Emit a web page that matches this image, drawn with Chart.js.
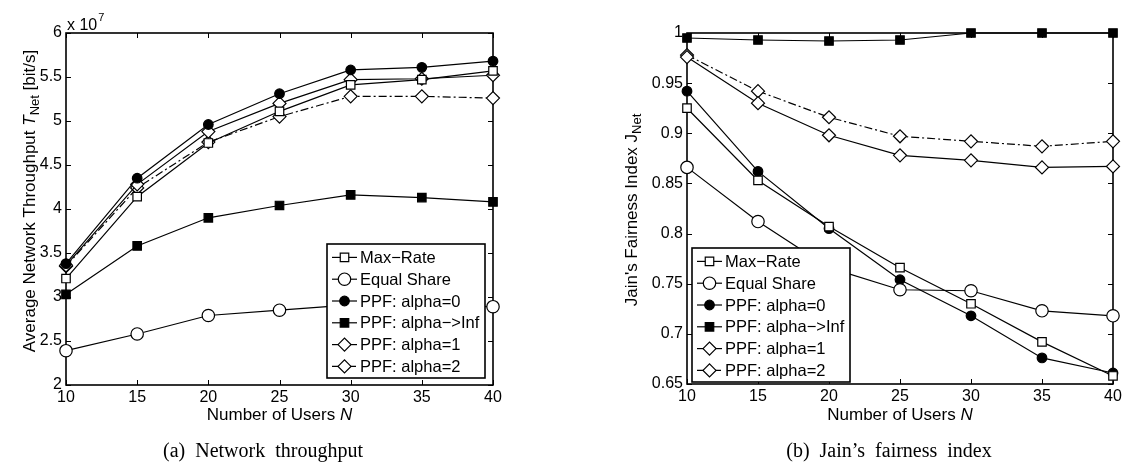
<!DOCTYPE html>
<html><head><meta charset="utf-8">
<script src="https://cdn.jsdelivr.net/npm/chart.js@4.4.0/dist/chart.umd.min.js"></script>
<style>
html,body{margin:0;padding:0;background:#fff}
body{width:1126px;height:469px;overflow:hidden;position:relative}
.box{position:absolute;top:0;height:469px;width:563px}
#w1{left:0}
#w2{left:563px}
.cap{position:absolute;font-family:"Liberation Serif","Times New Roman",serif;font-size:20px;word-spacing:5px;white-space:nowrap;transform:translate(-50%,-50%);top:450px;color:#000}
</style></head><body>
<div class="box" id="w1"><canvas id="c1"></canvas></div>
<div class="box" id="w2"><canvas id="c2"></canvas></div>
<div class="cap" style="left:263px">(a) Network throughput</div>
<div class="cap" style="left:889px">(b) Jain’s fairness index</div>
<script>
// ---------------- DATA ----------------
const X_USERS = [10, 15, 20, 25, 30, 35, 40];
const X_TICK_LABELS = ['10', '15', '20', '25', '30', '35', '40'];
const SERIES_LABELS = ['Max\u2212Rate', 'Equal Share', 'PPF: alpha=0', 'PPF: alpha\u2212>Inf', 'PPF: alpha=1', 'PPF: alpha=2'];

// (a) average network throughput [bit/s]
const THR_MAX_RATE    = [3.21e7, 4.14e7, 4.75e7, 5.11e7, 5.41e7, 5.47e7, 5.57e7];
const THR_EQUAL_SHARE = [2.39e7, 2.58e7, 2.79e7, 2.85e7, 2.91e7, 2.90e7, 2.89e7];
const THR_PPF_A0      = [3.38e7, 4.35e7, 4.96e7, 5.31e7, 5.58e7, 5.61e7, 5.68e7];
const THR_PPF_AINF    = [3.03e7, 3.58e7, 3.90e7, 4.04e7, 4.16e7, 4.13e7, 4.08e7];
const THR_PPF_A1      = [3.36e7, 4.28e7, 4.88e7, 5.20e7, 5.47e7, 5.48e7, 5.52e7];
const THR_PPF_A2      = [3.35e7, 4.24e7, 4.76e7, 5.05e7, 5.28e7, 5.28e7, 5.26e7];
const THR_TICKS       = [2e7, 2.5e7, 3e7, 3.5e7, 4e7, 4.5e7, 5e7, 5.5e7, 6e7];
const THR_TICK_LABELS = ['2', '2.5', '3', '3.5', '4', '4.5', '5', '5.5', '6'];

// (b) Jain's fairness index
const FAIR_MAX_RATE    = [0.925, 0.853, 0.807, 0.766, 0.730, 0.692, 0.658];
const FAIR_EQUAL_SHARE = [0.866, 0.812, 0.766, 0.744, 0.743, 0.723, 0.718];
const FAIR_PPF_A0      = [0.942, 0.862, 0.805, 0.754, 0.718, 0.676, 0.661];
const FAIR_PPF_AINF    = [0.995, 0.993, 0.992, 0.993, 1.000, 1.000, 1.000];
const FAIR_PPF_A1      = [0.976, 0.930, 0.898, 0.878, 0.873, 0.866, 0.867];
const FAIR_PPF_A2      = [0.978, 0.942, 0.916, 0.897, 0.892, 0.887, 0.892];
const FAIR_TICKS       = [0.65, 0.7, 0.75, 0.8, 0.85, 0.9, 0.95, 1];
const FAIR_TICK_LABELS = ['0.65', '0.7', '0.75', '0.8', '0.85', '0.9', '0.95', '1'];

// ---------------- STYLE ----------------
const FONT = '"Liberation Sans", Arial, Helvetica, sans-serif';
Chart.defaults.font.family = FONT;
Chart.defaults.color = '#000';
const LW = 1.2;
const STYLES = [
  {pointStyle: 'rect',    radius: 6,   fill: '#fff', dash: []},
  {pointStyle: 'circle',  radius: 6.2, fill: '#fff', dash: []},
  {pointStyle: 'circle',  radius: 4.8, fill: '#000', dash: []},
  {pointStyle: 'rect',    radius: 6,   fill: '#000', dash: []},
  {pointStyle: 'rectRot', radius: 6.5, fill: '#fff', dash: []},
  {pointStyle: 'rectRot', radius: 6.5, fill: '#fff', dash: [8, 3, 2, 3]}
];

function makeDatasets(seriesList) {
  return seriesList.map((vals, i) => {
    const s = STYLES[i];
    return {
      label: SERIES_LABELS[i],
      data: X_USERS.map((x, j) => ({x: x, y: vals[j]})),
      borderColor: '#000', borderWidth: LW, borderDash: s.dash,
      pointStyle: s.pointStyle, pointRadius: s.radius, pointHoverRadius: s.radius,
      pointBackgroundColor: s.fill, pointBorderColor: '#000', pointBorderWidth: LW,
      tension: 0, fill: false, clip: false
    };
  });
}

function decorPlugin(cfg) {
  return {
    id: 'decor',
    beforeDatasetsDraw(chart) {
      const ctx = chart.ctx, a = chart.chartArea;
      ctx.save();
      ctx.strokeStyle = '#000';
      ctx.lineWidth = 1.6;
      ctx.strokeRect(a.left, a.top, a.right - a.left, a.bottom - a.top);
      ctx.lineWidth = 1;
      const TL = 5;
      const xs = chart.scales.x, ys = chart.scales.y;
      xs.ticks.forEach(t => {
        const px = Math.round(xs.getPixelForValue(t.value)) + 0.5;
        ctx.beginPath();
        ctx.moveTo(px, a.bottom); ctx.lineTo(px, a.bottom - TL);
        ctx.moveTo(px, a.top); ctx.lineTo(px, a.top + TL);
        ctx.stroke();
      });
      ys.ticks.forEach(t => {
        const py = Math.round(ys.getPixelForValue(t.value)) + 0.5;
        ctx.beginPath();
        ctx.moveTo(a.left, py); ctx.lineTo(a.left + TL, py);
        ctx.moveTo(a.right, py); ctx.lineTo(a.right - TL, py);
        ctx.stroke();
      });
      ctx.restore();
    },
    afterDraw(chart) {
      const ctx = chart.ctx, a = chart.chartArea;
      ctx.save();
      ctx.fillStyle = '#000';
      // x title
      ctx.textBaseline = 'middle';
      const t1 = 'Number of Users ';
      ctx.font = '17px ' + FONT;
      const w1 = ctx.measureText(t1).width;
      ctx.font = 'italic 17px ' + FONT;
      const w2 = ctx.measureText('N').width;
      let sx = (a.left + a.right) / 2 - (w1 + w2) / 2;
      ctx.textAlign = 'left';
      ctx.font = '17px ' + FONT;
      ctx.fillText(t1, sx, cfg.xTitleY);
      ctx.font = 'italic 17px ' + FONT;
      ctx.fillText('N', sx + w1, cfg.xTitleY);

      // y title (rotated, with subscript)
      ctx.save();
      ctx.translate(cfg.yTitleX, cfg.yTitleCY);
      ctx.rotate(-Math.PI / 2);
      ctx.textBaseline = 'alphabetic';
      const parts = cfg.yParts;
      let total = 0;
      parts.forEach(p => { ctx.font = p.font; p.w = ctx.measureText(p.t).width; total += p.w; });
      let px = -total / 2;
      parts.forEach(p => { ctx.font = p.font; ctx.fillText(p.t, px, p.dy || 0); px += p.w; });
      ctx.restore();

      // exponent label
      if (cfg.exponent) {
        ctx.textBaseline = 'alphabetic';
        ctx.font = '16px ' + FONT;
        ctx.fillText('x 10', a.left + 1, a.top - 3);
        const ew = ctx.measureText('x 10').width;
        ctx.font = '11px ' + FONT;
        ctx.fillText('7', a.left + 2 + ew, a.top - 12);
      }

      // legend
      const b = cfg.legend;
      ctx.fillStyle = '#fff';
      ctx.fillRect(b.x, b.y, b.w, b.h);
      ctx.strokeStyle = '#000';
      ctx.lineWidth = 1.6;
      ctx.strokeRect(b.x, b.y, b.w, b.h);
      ctx.beginPath();
      ctx.rect(b.x + 1, b.y + 1, b.w - 2, b.h - 2);
      ctx.clip();
      chart.data.datasets.forEach((ds, i) => {
        const y = b.y + 13.4 + i * 21.8;
        ctx.strokeStyle = '#000';
        ctx.lineWidth = LW;
        ctx.setLineDash(ds.borderDash || []);
        ctx.beginPath();
        ctx.moveTo(b.x + 5, y); ctx.lineTo(b.x + 30, y);
        ctx.stroke();
        ctx.setLineDash([]);
        ctx.fillStyle = ds.pointBackgroundColor;
        Chart.helpers.drawPoint(ctx, {pointStyle: ds.pointStyle, radius: ds.pointRadius, rotation: 0, borderWidth: LW}, b.x + 17.5, y);
        ctx.fillStyle = '#000';
        ctx.font = '16.5px ' + FONT;
        ctx.textAlign = 'left';
        ctx.textBaseline = 'middle';
        ctx.fillText(ds.label, b.x + 33, y + 1);
      });
      ctx.restore();
    }
  };
}

function makeChart(id, seriesList, yTicks, yLabels, yMin, yMax, geo, cfg) {
  return new Chart(document.getElementById(id), {
    type: 'line',
    data: {datasets: makeDatasets(seriesList)},
    options: {
      responsive: true, maintainAspectRatio: false, animation: false,
      events: [],
      layout: {padding: {left: 0, right: geo.padRight, top: geo.padTop, bottom: 0}},
      plugins: {legend: {display: false}, tooltip: {enabled: false}},
      scales: {
        x: {
          type: 'linear', min: 10, max: 40,
          afterBuildTicks: s => { s.ticks = X_USERS.map(v => ({value: v})); },
          afterFit: s => { s.height = geo.xHeight; },
          ticks: {autoSkip: false, maxRotation: 0, padding: 3, color: '#000', font: {size: 16},
                  callback: (v, i) => X_TICK_LABELS[i]},
          grid: {display: false, drawTicks: false},
          border: {display: false}
        },
        y: {
          type: 'linear', min: yMin, max: yMax,
          afterBuildTicks: s => { s.ticks = yTicks.map(v => ({value: v})); },
          afterFit: s => { s.width = geo.yWidth; },
          ticks: {autoSkip: false, padding: 4, color: '#000', font: {size: 16},
                  callback: (v, i) => yLabels[i]},
          grid: {display: false, drawTicks: false},
          border: {display: false}
        }
      }
    },
    plugins: [decorPlugin(cfg)]
  });
}

makeChart('c1',
  [THR_MAX_RATE, THR_EQUAL_SHARE, THR_PPF_A0, THR_PPF_AINF, THR_PPF_A1, THR_PPF_A2],
  THR_TICKS, THR_TICK_LABELS, 2e7, 6e7,
  {padRight: 70, padTop: 33, xHeight: 84, yWidth: 66},
  {
    xTitleY: 415, yTitleX: 35, yTitleCY: 201, exponent: true,
    yParts: [
      {t: 'Average Network Throughput ', font: '17px ' + FONT},
      {t: 'T', font: 'italic 17px ' + FONT},
      {t: 'Net', font: '13px ' + FONT, dy: 4},
      {t: ' [bit/s]', font: '17px ' + FONT}
    ],
    legend: {x: 327, y: 244, w: 158, h: 134}
  });

makeChart('c2',
  [FAIR_MAX_RATE, FAIR_EQUAL_SHARE, FAIR_PPF_A0, FAIR_PPF_AINF, FAIR_PPF_A1, FAIR_PPF_A2],
  FAIR_TICKS, FAIR_TICK_LABELS, 0.65, 1,
  {padRight: 13, padTop: 33, xHeight: 85, yWidth: 124},
  {
    xTitleY: 415, yTitleX: 74, yTitleCY: 210, exponent: false,
    yParts: [
      {t: "Jain's Fairness Index J", font: '17px ' + FONT},
      {t: 'Net', font: '13px ' + FONT, dy: 4}
    ],
    legend: {x: 129, y: 248, w: 158, h: 134}
  });
</script>
</body></html>
